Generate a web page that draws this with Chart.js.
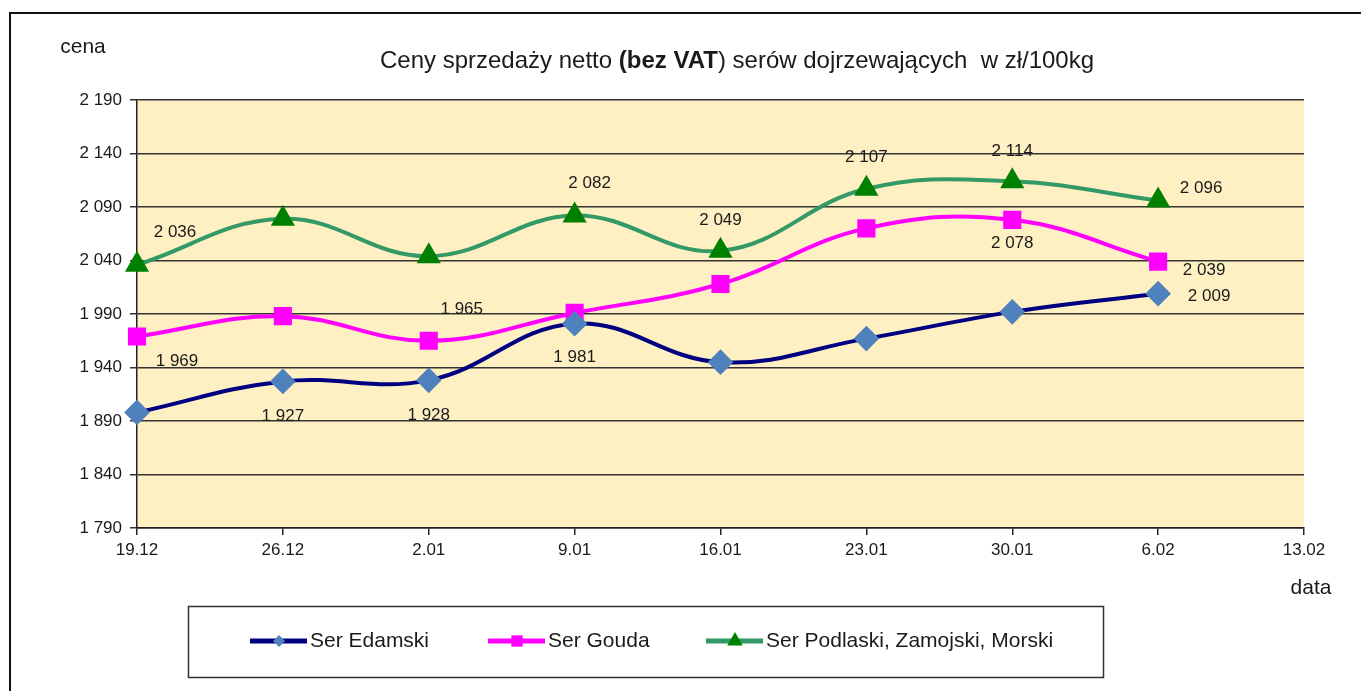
<!DOCTYPE html>
<html>
<head>
<meta charset="utf-8">
<script src="https://cdn.jsdelivr.net/npm/chart.js@4.4.1/dist/chart.umd.min.js"></script>
<style>
  html, body { margin: 0; padding: 0; background: #fff; }
  #wrap { width: 1361px; height: 691px; }
</style>
</head>
<body>
<div id="wrap"><canvas id="cheeseChart" width="1361" height="691"></canvas></div>
<script>
/* ============================
   CENY SERÓW DOJRZEWAJĄCYCH
============================ */

const dates = ["19.12", "26.12", "2.01", "9.01", "16.01", "23.01", "30.01", "6.02", "13.02"];
const edamski = [1898, 1927, 1928, 1981, 1945, 1967, 1992, 2009, null];
const gouda = [1969, 1988, 1965, 1991, 2018, 2070, 2078, 2039, null];
const podlaski = [2036, 2079, 2044, 2082, 2049, 2107, 2114, 2096, null];
const seriesNames = ["Ser Edamski", "Ser Gouda", "Ser Podlaski, Zamojski, Morski"];
const yTicks = { min: 1790, max: 2190, step: 50 };

// points that carry a value label in the original
const edamskiLabelled = [1, 2, 3, 7];
const goudaLabelled = [0, 2, 6, 7];
const podlaskiLabelled = [0, 3, 4, 5, 6, 7];

const FONT = "'Liberation Sans', Arial, sans-serif";
const TEXT = "#1a1a1a";

// label offsets (px) from each marker, per dataset
const labelOffsets = [
  { 1: [0, 35], 2: [0, 35], 3: [0, 34], 7: [51, 3] },
  { 0: [40, 25], 2: [33, -31], 6: [0, 23], 7: [46, 9] },
  { 0: [38, -32], 3: [15, -32], 4: [0, -31], 5: [0, -31], 6: [0, -30], 7: [43, -12] },
];
const labelledIdx = [edamskiLabelled, goudaLabelled, podlaskiLabelled];

const fmt = v => {
  const s = String(Math.round(v));
  return s.length > 3 ? s.slice(0, -3) + " " + s.slice(-3) : s;
};

/* ===== custom drawing: frame, title, axis names, labels, legend ===== */
const decorations = {
  id: "decorations",
  beforeDraw(chart) {
    const { ctx, chartArea: a } = chart;
    ctx.save();
    ctx.fillStyle = "#FFF0C3";
    ctx.fillRect(a.left, a.top, a.right - a.left, a.bottom - a.top);
    ctx.restore();
  },
  afterDraw(chart) {
    const { ctx } = chart;
    ctx.save();

    // outer frame (left + top only visible)
    ctx.strokeStyle = "#111";
    ctx.lineWidth = 2;
    ctx.beginPath();
    ctx.moveTo(10, 700);
    ctx.lineTo(10, 13);
    ctx.lineTo(1370, 13);
    ctx.stroke();

    // title with bold part
    const runs = [
      ["Ceny sprzedaży netto ", "normal"],
      ["(bez VAT", "bold"],
      [") serów dojrzewających  w zł/100kg", "normal"],
    ];
    const size = 24;
    let total = 0;
    runs.forEach(r => { ctx.font = `${r[1]} ${size}px ${FONT}`; total += ctx.measureText(r[0]).width; });
    let x = 737 - total / 2;
    ctx.fillStyle = TEXT;
    ctx.textBaseline = "middle";
    ctx.textAlign = "left";
    runs.forEach(r => {
      ctx.font = `${r[1]} ${size}px ${FONT}`;
      ctx.fillText(r[0], x, 61);
      x += ctx.measureText(r[0]).width;
    });

    // axis names
    ctx.font = `21px ${FONT}`;
    ctx.textAlign = "center";
    ctx.fillText("cena", 83, 47);
    ctx.fillText("data", 1311, 588);

    // value labels
    ctx.font = `17px ${FONT}`;
    chart.data.datasets.forEach((ds, di) => {
      const meta = chart.getDatasetMeta(di);
      labelledIdx[di].forEach(i => {
        const pt = meta.data[i];
        const off = labelOffsets[di][i] || [0, -30];
        ctx.fillText(fmt(ds.data[i]), pt.x + off[0], pt.y + off[1]);
      });
    });

    // legend box
    ctx.strokeStyle = "#333";
    ctx.lineWidth = 1.5;
    ctx.strokeRect(188.5, 606.5, 915, 71);
    const legendX = [250, 488, 706];
    const ly = 641;
    chart.data.datasets.forEach((ds, di) => {
      const lx = legendX[di];
      ctx.strokeStyle = ds.borderColor;
      ctx.lineWidth = 5;
      ctx.beginPath();
      ctx.moveTo(lx, ly);
      ctx.lineTo(lx + 57, ly);
      ctx.stroke();
      ctx.fillStyle = ds.pointBackgroundColor;
      ctx.strokeStyle = ds.pointBorderColor;
      ctx.lineWidth = 1;
      Chart.helpers.drawPoint(ctx, { pointStyle: ds.pointStyle, radius: ds.legendRadius, rotation: 0 }, lx + 29, ly);
      ctx.fillStyle = TEXT;
      ctx.font = `21px ${FONT}`;
      ctx.textAlign = "left";
      ctx.fillText(ds.label, lx + 60, ly);
    });

    ctx.restore();
  },
};

new Chart(document.getElementById("cheeseChart"), {
  type: "line",
  data: {
    labels: dates,
    datasets: [
      {
        label: seriesNames[0],
        data: edamski,
        borderColor: "#000080",
        borderWidth: 4,
        pointStyle: "rectRot",
        pointRadius: 10,
        legendRadius: 6,
        pointBackgroundColor: "#4F81BD",
        pointBorderColor: "#4F81BD",
        tension: 0.4,
      },
      {
        label: seriesNames[1],
        data: gouda,
        borderColor: "#FF00FF",
        borderWidth: 4,
        pointStyle: "rect",
        pointRadius: 10,
        legendRadius: 8,
        pointBackgroundColor: "#FF00FF",
        pointBorderColor: "#FF00FF",
        tension: 0.4,
      },
      {
        label: seriesNames[2],
        data: podlaski,
        borderColor: "#339966",
        borderWidth: 4,
        pointStyle: "triangle",
        pointRadius: 10,
        legendRadius: 9,
        pointBackgroundColor: "#008000",
        pointBorderColor: "#008000",
        tension: 0.4,
      },
    ],
  },
  options: {
    responsive: false,
    animation: false,
    layout: { padding: { left: 0, top: 100, right: 57, bottom: 123 } },
    plugins: {
      legend: { display: false },
      title: { display: false },
      tooltip: { enabled: false },
    },
    scales: {
      x: {
        offset: false,
        afterFit(scale) { scale.height = 40; },
        grid: { drawOnChartArea: false, drawTicks: true, tickLength: 7, color: "#222", lineWidth: 1.5 },
        border: { display: true, color: "#222", width: 1.5 },
        ticks: { color: TEXT, font: { family: FONT, size: 17 }, padding: 5, maxRotation: 0, autoSkip: false },
      },
      y: {
        min: yTicks.min,
        max: yTicks.max,
        afterFit(scale) { scale.width = 137; },
        grid: { color: "#333", lineWidth: 1.5, tickLength: 7 },
        border: { display: true, color: "#222", width: 1.5 },
        ticks: {
          stepSize: yTicks.step,
          color: TEXT,
          font: { family: FONT, size: 17 },
          padding: 8,
          callback: v => fmt(v),
        },
      },
    },
  },
  plugins: [decorations],
});
</script>
</body>
</html>
